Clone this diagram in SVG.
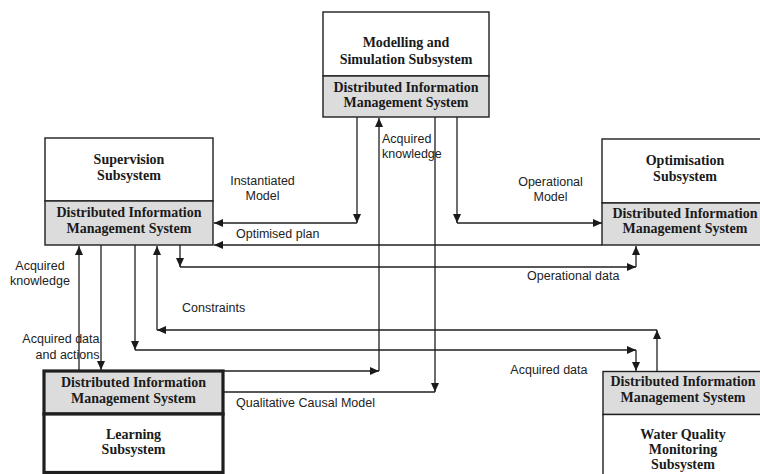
<svg xmlns="http://www.w3.org/2000/svg" width="760" height="474" viewBox="0 0 760 474">
<defs>
<marker id="ah" markerUnits="userSpaceOnUse" markerWidth="10" markerHeight="10" viewBox="0 0 10 10" refX="9" refY="5" orient="auto">
<path d="M0,1 L9,5 L0,9 Z" fill="#1a1a1a"/>
</marker>
<style>
.box{fill:#fff;stroke:#1f1f1f;stroke-width:1.4}
.dims{fill:#dcdcdc;stroke:#1f1f1f;stroke-width:1.4}
.thick{stroke-width:3.2}
.bt{font-family:"Liberation Serif",serif;font-weight:bold;font-size:14px;fill:#1a1a1a;text-anchor:middle}
.lb{font-family:"Liberation Sans",Arial,sans-serif;font-size:12.5px;fill:#222}
.c{fill:none;stroke:#1f1f1f;stroke-width:1.3}
.a{marker-end:url(#ah)}
</style>
</defs>
<rect width="760" height="474" fill="#fff"/>

<g id="modelling">
<rect class="box" x="323" y="12" width="166" height="64"/>
<rect class="dims" x="323" y="76" width="166" height="41"/>
<text class="bt" x="406" y="47">Modelling and</text>
<text class="bt" x="406" y="63.5">Simulation Subsystem</text>
<text class="bt" x="406" y="92">Distributed Information</text>
<text class="bt" x="406" y="107">Management System</text>
</g>

<g id="supervision">
<rect class="box" x="45" y="138" width="168" height="63"/>
<rect class="dims" x="45" y="201" width="168" height="44"/>
<text class="bt" x="129" y="164">Supervision</text>
<text class="bt" x="129" y="180">Subsystem</text>
<text class="bt" x="129" y="217">Distributed Information</text>
<text class="bt" x="129" y="233">Management System</text>
</g>

<g id="optimisation">
<rect class="box" x="602" y="139" width="168" height="64"/>
<rect class="dims" x="602" y="203" width="168" height="42"/>
<text class="bt" x="685" y="165">Optimisation</text>
<text class="bt" x="685" y="180.5">Subsystem</text>
<text class="bt" x="685" y="218">Distributed Information</text>
<text class="bt" x="685" y="233">Management System</text>
</g>

<g id="learning">
<rect class="dims thick" x="44" y="371" width="179" height="43"/>
<rect class="box thick" x="44" y="414" width="179" height="58.5"/>
<text class="bt" x="133.5" y="387">Distributed Information</text>
<text class="bt" x="133.5" y="403">Management System</text>
<text class="bt" x="133.5" y="438.5">Learning</text>
<text class="bt" x="133.5" y="453.5">Subsystem</text>
</g>

<g id="waterquality">
<rect class="dims" x="603" y="371.5" width="168" height="43"/>
<rect class="box" x="603" y="414.5" width="168" height="70"/>
<text class="bt" x="683" y="385.5">Distributed Information</text>
<text class="bt" x="683" y="402">Management System</text>
<text class="bt" x="683" y="438.5">Water Quality</text>
<text class="bt" x="683" y="453.5">Monitoring</text>
<text class="bt" x="683" y="468.5">Subsystem</text>
</g>

<g id="connectors">
<path class="c a" d="M357,117 V223"/>
<path class="c a" d="M357,223 H214"/>
<path class="c a" d="M457,117 V223"/>
<path class="c a" d="M457,223 H602"/>
<path class="c a" d="M602,245 H214"/>
<path class="c a" d="M180,245 V267"/>
<path class="c a" d="M180,267 H636"/>
<path class="c a" d="M636,267 V246"/>
<path class="c a" d="M135,245 V350"/>
<path class="c a" d="M135,350 H636"/>
<path class="c a" d="M636,350 V371"/>
<path class="c a" d="M657,371 V330"/>
<path class="c a" d="M657,330 H157"/>
<path class="c a" d="M157,330 V246"/>
<path class="c a" d="M79,371 V246"/>
<path class="c a" d="M101,245 V370"/>
<path class="c a" d="M224,371 H379"/>
<path class="c a" d="M379,371 V118"/>
<path class="c" d="M224,392 H435"/>
<path class="c a" d="M435,117 V392"/>
</g>

<g id="labels">
<text class="lb" x="262.5" y="184.5" text-anchor="middle">Instantiated</text>
<text class="lb" x="262.5" y="200" text-anchor="middle">Model</text>
<text class="lb" x="236" y="237.5">Optimised plan</text>
<text class="lb" x="382" y="142.5">Acquired</text>
<text class="lb" x="382" y="157.5">knowledge</text>
<text class="lb" x="550.5" y="185.5" text-anchor="middle">Operational</text>
<text class="lb" x="550.5" y="201" text-anchor="middle">Model</text>
<text class="lb" x="527" y="280">Operational data</text>
<text class="lb" x="40" y="269.5" text-anchor="middle">Acquired</text>
<text class="lb" x="40" y="285" text-anchor="middle">knowledge</text>
<text class="lb" x="182" y="312">Constraints</text>
<text class="lb" x="99.5" y="342.5" text-anchor="end">Acquired data</text>
<text class="lb" x="99.5" y="358.5" text-anchor="end">and actions</text>
<text class="lb" x="587.5" y="374" text-anchor="end">Acquired data</text>
<text class="lb" x="236" y="407">Qualitative Causal Model</text>
</g>
</svg>
